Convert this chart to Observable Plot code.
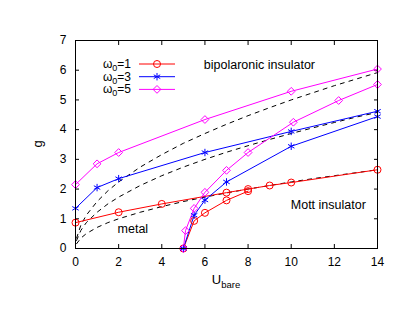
<!DOCTYPE html>
<html><head><meta charset="utf-8">
<script src="https://cdn.jsdelivr.net/npm/d3@7"></script>
<script src="https://cdn.jsdelivr.net/npm/@observablehq/plot@0.6"></script>
<style>
body{margin:0;background:#fff;}
#chart{width:409px;height:316px;}
</style></head><body><div id="chart"></div>
<script>
// ---- data ----
const xTicks = [0, 2, 4, 6, 8, 10, 12, 14];
const yTicks = [0, 1, 2, 3, 4, 5, 6, 7];
const seriesNames = ["w1", "w3", "w5"];
const seriesOmega = ["1", "3", "5"];
const seriesColors = ["#ff0000", "#0000ff", "#ff00ff"];
const seriesSymbols = ["circle", "asterisk", "diamond2"];

// omega0 = 1
const U1a = [0, 2, 4, 7, 8, 9, 10, 14];
const g1a = [0.87, 1.22, 1.5, 1.88, 2.0, 2.12, 2.22, 2.65];
const U1b = [5, 5.5, 6, 7, 8];
const g1b = [0, 0.93, 1.2, 1.62, 1.93];
// omega0 = 3
const U3a = [0, 1, 2, 6, 10, 14];
const g3a = [1.35, 2.05, 2.35, 3.23, 3.94, 4.62];
const U3b = [5, 5.5, 6, 7, 10, 14];
const g3b = [0, 1.12, 1.63, 2.24, 3.44, 4.44];
// omega0 = 5
const U5a = [0, 1, 2, 6, 10, 14];
const g5a = [2.15, 2.85, 3.23, 4.34, 5.29, 6.04];
const U5b = [5, 5.1, 5.5, 6, 7, 8, 10.1, 12.2, 14];
const g5b = [0, 0.6, 1.35, 1.89, 2.63, 3.23, 4.25, 4.98, 5.52];

// dashed reference curves
const dashU = [0.05, 0.25, 0.5, 1, 1.5, 2, 3, 4, 5, 6, 7, 8, 9, 10, 11, 12, 13, 14];
const dash1 = [0.16, 0.35, 0.5, 0.71, 0.87, 1.0, 1.22, 1.41, 1.58, 1.73, 1.87, 2.0, 2.12, 2.24, 2.35, 2.45, 2.55, 2.65];
const dash3 = [0.27, 0.61, 0.87, 1.22, 1.5, 1.73, 2.12, 2.45, 2.74, 3.0, 3.24, 3.46, 3.67, 3.87, 4.06, 4.24, 4.42, 4.58];
const dash5 = [0.35, 0.79, 1.12, 1.58, 1.94, 2.24, 2.74, 3.16, 3.54, 3.87, 4.18, 4.47, 4.74, 5.0, 5.24, 5.48, 5.7, 5.92];

const annoText = ["bipolaronic insulator", "Mott insulator", "metal"];
const annoU = [5.95, 9.98, 1.95];
const annoG = [6.16, 1.45, 0.67];

// ---- build tables ----
const branches = [
  ["w1", "a", U1a, g1a], ["w1", "b", U1b, g1b],
  ["w3", "a", U3a, g3a], ["w3", "b", U3b, g3b],
  ["w5", "a", U5a, g5a], ["w5", "b", U5b, g5b]
];
const rows = branches.flatMap(([s, b, U, g]) => U.map((u, i) => ({series: s, key: s + b, U: u, g: g[i]})));
const dashRows = [["w1", dash1], ["w3", dash3], ["w5", dash5]]
  .flatMap(([s, g]) => dashU.map((u, i) => ({series: s, U: u, g: g[i]})));
const annos = annoText.map((t, i) => ({text: t, U: annoU[i], g: annoG[i]}));

const FONT = "'Liberation Sans', Arial, Helvetica, sans-serif";

const plot = Plot.plot({
  width: 409, height: 316,
  marginLeft: 75, marginRight: 32, marginTop: 40, marginBottom: 68,
  style: {fontFamily: FONT, fontSize: "12px", background: "white", color: "black", overflow: "visible"},
  x: {domain: [0, 14]},
  y: {domain: [0, 7]},
  color: {domain: seriesNames, range: seriesColors},
  symbol: {domain: seriesNames, range: seriesSymbols},
  marks: [
    Plot.axisX(xTicks, {anchor: "bottom", tickSize: -4, tickPadding: 13, label: null, fontSize: 12}),
    Plot.axisX(xTicks, {anchor: "top", tickSize: -4, tickFormat: () => "", label: null}),
    Plot.axisY(yTicks, {anchor: "left", tickSize: -4, tickPadding: 13, label: null, fontSize: 12}),
    Plot.axisY(yTicks, {anchor: "right", tickSize: -4, tickFormat: () => "", label: null}),
    Plot.line(dashRows, {x: "U", y: "g", z: "series", stroke: "black", strokeWidth: 1, strokeDasharray: "4,5"}),
    Plot.line(rows, {x: "U", y: "g", z: "key", stroke: "series", strokeWidth: 1}),
    Plot.dot(rows, {x: "U", y: "g", stroke: "series", symbol: "series", r: 3.5, fill: "none", strokeWidth: 1}),
    Plot.text(annos, {x: "U", y: "g", text: "text", textAnchor: "start", fill: "black", fontSize: 12.5}),
    Plot.frame({stroke: "black", strokeWidth: 1})
  ]
});
document.getElementById("chart").appendChild(plot);

// ---- axis labels and legend (overlay on the same SVG) ----
const svg = d3.select(plot);
const xs = plot.scale("x"), ys = plot.scale("y");
const x0 = xs.range[0], x1 = xs.range[1], y0 = ys.range[0], y1 = ys.range[1];

svg.append("text")
  .attr("transform", `translate(39,${(y0 + y1) / 2}) rotate(-90)`)
  .attr("text-anchor", "middle").attr("dominant-baseline", "middle")
  .attr("font-family", FONT).attr("font-size", 13).attr("fill", "black")
  .text("g");

const ul = svg.append("text")
  .attr("x", (x0 + x1) / 2).attr("y", y0 + 36)
  .attr("text-anchor", "middle")
  .attr("font-family", FONT).attr("font-size", 13).attr("fill", "black");
ul.append("tspan").text("U");
ul.append("tspan").attr("dy", 4).attr("font-size", 9.5).text("bare");

const legX = x0 + 56, legLine0 = x0 + 64, legLine1 = x0 + 100, legY0 = 64, legDY = 12.7;
seriesNames.forEach((s, i) => {
  const y = legY0 + i * legDY;
  const t = svg.append("text")
    .attr("x", legX).attr("y", y + 4)
    .attr("text-anchor", "end")
    .attr("font-family", FONT).attr("font-size", 12).attr("fill", "black");
  t.append("tspan").text("ω");
  t.append("tspan").attr("dy", 3).attr("font-size", 9).text("0");
  t.append("tspan").attr("dy", -3).text("=" + seriesOmega[i]);
  svg.append("line")
    .attr("x1", legLine0).attr("x2", legLine1).attr("y1", y).attr("y2", y)
    .attr("stroke", seriesColors[i]).attr("stroke-width", 1);
  const symMap = {circle: d3.symbolCircle, asterisk: d3.symbolAsterisk, diamond2: d3.symbolDiamond2};
  svg.append("path")
    .attr("transform", `translate(${(legLine0 + legLine1) / 2},${y})`)
    .attr("d", d3.symbol(symMap[seriesSymbols[i]], Math.PI * 3.5 * 3.5)())
    .attr("fill", "none").attr("stroke", seriesColors[i]).attr("stroke-width", 1);
});
</script>
</body></html>
